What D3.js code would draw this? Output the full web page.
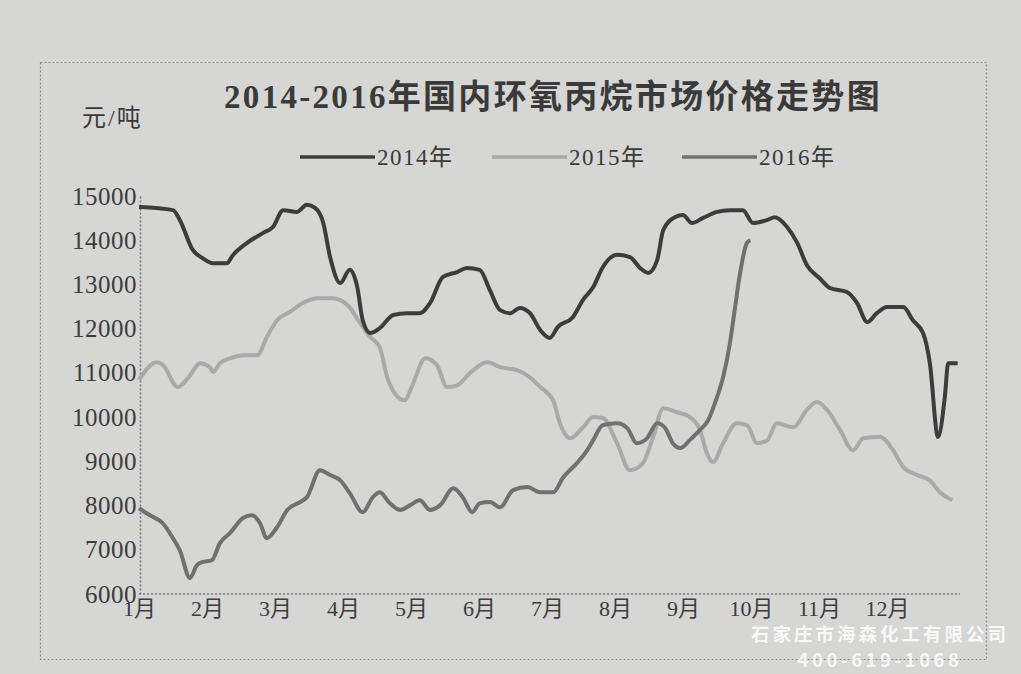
<!DOCTYPE html>
<html>
<head>
<meta charset="utf-8">
<script src="https://cdn.jsdelivr.net/npm/d3@7"></script>
<style>
  html, body { margin: 0; padding: 0; background: #d6d6d4; }
  svg { display: block; }
</style>
</head>
<body>
<svg id="chart" width="1021" height="674"></svg>
<script>
// ---------------- DATA ----------------
const title = "2014-2016年国内环氧丙烷市场价格走势图";
const unitLabel = "元/吨";
const monthLabels = ["1月","2月","3月","4月","5月","6月","7月","8月","9月","10月","11月","12月"];
const yTicks = [6000,7000,8000,9000,10000,11000,12000,13000,14000,15000];
const seriesNames = ["2014年","2015年","2016年"];

// x positions are in month units (1 = start of January, 13 = end of December)
const t2014 = [1.00,1.50,1.60,1.79,1.93,2.09,2.29,2.38,2.59,2.82,2.97,3.12,3.32,3.47,3.59,3.71,3.81,3.96,4.10,4.21,4.29,4.40,4.54,4.74,4.94,5.13,5.28,5.47,5.68,5.82,6.01,6.16,6.31,6.46,6.60,6.75,6.90,7.04,7.16,7.38,7.53,7.68,7.82,8.03,8.22,8.37,8.49,8.62,8.71,8.88,9.00,9.13,9.29,9.50,9.69,9.88,10.03,10.24,10.35,10.53,10.68,10.82,11.01,11.16,11.41,11.56,11.71,11.85,12.00,12.24,12.38,12.53,12.63,12.75,12.85,12.90,13.04];
const p2014 = [14750,14680,14460,13780,13600,13480,13480,13660,13940,14160,14300,14680,14640,14800,14730,14390,13620,13030,13330,12940,12190,11900,12010,12310,12350,12350,12580,13170,13280,13370,13330,12870,12420,12350,12470,12350,11970,11790,12040,12260,12650,12940,13390,13670,13620,13370,13260,13550,14230,14520,14570,14390,14500,14640,14680,14680,14390,14460,14520,14300,13940,13440,13140,12920,12830,12580,12150,12350,12490,12490,12190,11900,11220,9550,10450,11220,11220];

const t2015 = [1.00,1.26,1.35,1.57,1.72,1.90,2.04,2.09,2.19,2.34,2.53,2.74,2.88,3.03,3.22,3.41,3.62,3.85,4.07,4.25,4.40,4.54,4.65,4.76,4.91,5.01,5.21,5.38,5.53,5.68,5.87,6.12,6.31,6.56,6.75,6.90,7.09,7.19,7.34,7.53,7.68,7.82,8.03,8.22,8.41,8.56,8.71,8.91,9.10,9.25,9.35,9.44,9.59,9.79,9.94,10.09,10.24,10.38,10.62,10.82,10.97,11.12,11.31,11.50,11.65,11.90,12.09,12.24,12.44,12.63,12.78,12.96];
const p2015 = [10840,11240,11180,10680,10880,11220,11130,11020,11220,11330,11400,11400,11810,12190,12380,12580,12690,12690,12530,12130,11810,11580,10900,10540,10380,10680,11330,11180,10680,10720,11000,11240,11130,11060,10900,10680,10380,9860,9520,9770,10000,9980,9410,8800,8960,9550,10200,10110,10000,9710,9190,8980,9410,9860,9820,9410,9480,9860,9770,10160,10340,10160,9710,9250,9520,9550,9250,8870,8690,8570,8300,8120];

const t2016 = [1.00,1.16,1.35,1.50,1.60,1.75,1.85,1.93,2.07,2.19,2.34,2.53,2.66,2.78,2.88,3.03,3.18,3.37,3.47,3.66,3.81,3.96,4.10,4.29,4.44,4.54,4.69,4.84,4.99,5.13,5.28,5.43,5.62,5.76,5.90,6.01,6.16,6.31,6.50,6.71,6.90,7.09,7.24,7.44,7.59,7.68,7.82,8.03,8.18,8.32,8.47,8.62,8.74,8.85,8.96,9.10,9.25,9.37,9.50,9.59,9.69,9.76,9.84,9.94,9.99];
const p2016 = [7940,7780,7600,7260,6990,6360,6650,6720,6760,7150,7380,7720,7780,7600,7260,7510,7900,8080,8190,8800,8690,8570,8280,7850,8190,8300,8050,7900,8010,8120,7900,8010,8390,8190,7850,8050,8080,7960,8350,8420,8300,8300,8640,8960,9250,9480,9820,9860,9750,9410,9520,9860,9750,9410,9300,9480,9710,9930,10450,10900,11670,12420,13260,13940,14000];

const seriesColors = ["#3c3c3c", "#a9a9a9", "#707070"];

// ---------------- CHART ----------------
const svg = d3.select("#chart");
const serif = "'Liberation Serif', 'Noto Sans CJK SC', serif";

// outer dotted frame
svg.append("rect")
  .attr("x", 40.5).attr("y", 62.5).attr("width", 946).attr("height", 597)
  .attr("fill", "none").attr("stroke", "#8a8a8a").attr("stroke-width", 1.2)
  .attr("stroke-dasharray", "2,2");

const x = d3.scaleLinear().domain([1, 13]).range([139, 955]);
const y = d3.scaleLinear().domain([6000, 15000]).range([594, 196]);

// title
svg.append("text")
  .attr("x", 553).attr("y", 108)
  .attr("text-anchor", "middle")
  .attr("font-family", serif)
  .attr("font-size", 33).attr("font-weight", "bold")
  .attr("letter-spacing", "2.3px")
  .attr("fill", "#3a3a3a")
  .text(title);

// unit label
svg.append("text")
  .attr("x", 82).attr("y", 126)
  .attr("font-family", serif)
  .attr("font-size", 24)
  .attr("letter-spacing", "2px")
  .attr("fill", "#3a3a3a")
  .text(unitLabel);

// legend
const legendX = [300, 492, 682];
seriesNames.forEach((name, i) => {
  const g = svg.append("g").attr("transform", `translate(${legendX[i]},157)`);
  g.append("line").attr("x1", 0).attr("x2", 75).attr("y1", 0).attr("y2", 0)
    .attr("stroke", seriesColors[i]).attr("stroke-width", 3.5);
  g.append("text").attr("x", 77).attr("y", 8)
    .attr("font-family", serif).attr("font-size", 23)
    .attr("letter-spacing", "1.5px")
    .attr("fill", "#3a3a3a").text(name);
});

// y axis
const yAxis = d3.axisLeft(y).tickValues(yTicks).tickSize(0).tickPadding(3)
  .tickFormat(d3.format("d"));
const yg = svg.append("g").attr("transform", "translate(140,0)").call(yAxis);
yg.select(".domain").attr("stroke", "#777").attr("stroke-width", 1.5).attr("stroke-dasharray", "2,2");
yg.selectAll("text")
  .attr("font-family", serif).attr("font-size", 25)
  .attr("letter-spacing", "0.5px")
  .attr("fill", "#3c3c3c");

// x axis
const xAxis = d3.axisBottom(x).tickValues(d3.range(1, 13)).tickSize(0).tickPadding(6)
  .tickFormat((d, i) => monthLabels[i]);
const xg = svg.append("g").attr("transform", "translate(0,594)").call(xAxis);
xg.select(".domain").attr("stroke", "#777").attr("stroke-width", 1.5).attr("stroke-dasharray", "2,2")
  .attr("d", `M${x(1)},0H960`);
xg.selectAll("text")
  .attr("font-family", serif).attr("font-size", 22)
  .attr("fill", "#3c3c3c");

// lines
const line = d3.line().x(d => x(d[0])).y(d => y(d[1])).curve(d3.curveMonotoneX);
const series = [
  d3.zip(t2015, p2015),
  d3.zip(t2016, p2016),
  d3.zip(t2014, p2014)
];
const order = [1, 2, 0];
series.forEach((data, k) => {
  svg.append("path")
    .datum(data)
    .attr("fill", "none")
    .attr("stroke", seriesColors[order[k]])
    .attr("stroke-width", 4)
    .attr("stroke-linejoin", "round")
    .attr("d", line);
});

// watermark
svg.append("text")
  .attr("x", 880).attr("y", 641).attr("text-anchor", "middle")
  .attr("font-family", "'Noto Sans CJK SC', sans-serif")
  .attr("font-size", 18.5).attr("font-weight", "bold")
  .attr("letter-spacing", "3px")
  .attr("fill", "#ffffff").attr("fill-opacity", 0.85)
  .text("石家庄市海森化工有限公司");
svg.append("text")
  .attr("x", 880).attr("y", 667).attr("text-anchor", "middle")
  .attr("font-family", "'Noto Sans CJK SC', sans-serif")
  .attr("font-size", 18.5).attr("font-weight", "bold")
  .attr("letter-spacing", "3.5px")
  .attr("fill", "#ffffff").attr("fill-opacity", 0.85)
  .text("400-619-1068");
</script>
</body>
</html>
